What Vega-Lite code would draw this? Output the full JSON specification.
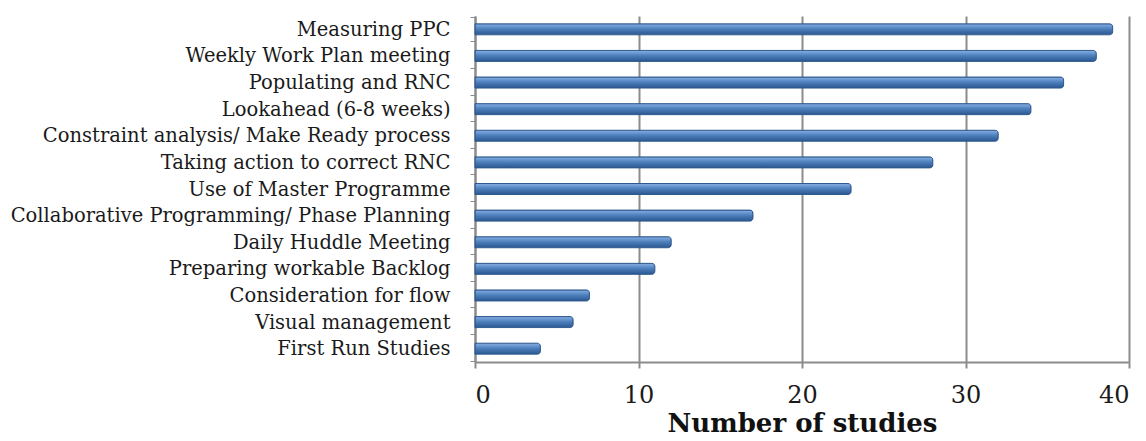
{
  "$schema": "https://vega.github.io/schema/vega-lite/v6.json",
  "autosize": "none",
  "width": 654,
  "height": 346,
  "padding": {"left": 475, "top": 16, "right": 17, "bottom": 79},
  "background": "white",
  "config": {"view": {"stroke": null}},
  "data": {
    "values": [
      {"practice": "Measuring PPC", "studies": 39},
      {"practice": "Weekly Work Plan meeting", "studies": 38},
      {"practice": "Populating and RNC", "studies": 36},
      {"practice": "Lookahead  (6-8 weeks)", "studies": 34},
      {"practice": "Constraint analysis/ Make Ready process", "studies": 32},
      {"practice": "Taking action to correct RNC", "studies": 28},
      {"practice": "Use of Master Programme", "studies": 23},
      {"practice": "Collaborative Programming/ Phase Planning", "studies": 17},
      {"practice": "Daily Huddle  Meeting", "studies": 12},
      {"practice": "Preparing workable Backlog", "studies": 11},
      {"practice": "Consideration for flow", "studies": 7},
      {"practice": "Visual management", "studies": 6},
      {"practice": "First Run Studies", "studies": 4}
    ]
  },
  "mark": {
    "type": "bar",
    "height": 11,
    "cornerRadiusEnd": 3,
    "stroke": "#2F5A8F",
    "strokeWidth": 1,
    "color": {
      "gradient": "linear",
      "x1": 0, "y1": 0, "x2": 0, "y2": 1,
      "stops": [
        {"offset": 0, "color": "#8AB0E6"},
        {"offset": 0.45, "color": "#4F81BD"},
        {"offset": 1, "color": "#2A5690"}
      ]
    }
  },
  "encoding": {
    "y": {
      "field": "practice",
      "type": "nominal",
      "sort": null,
      "title": null,
      "axis": {
        "labelFont": "DejaVu Serif",
        "labelFontSize": 19.5,
        "labelColor": "#1A1A1A",
        "labelPadding": 20,
        "labelLimit": 500,
        "tickSize": 5,
        "tickColor": "#8C8C8C",
        "tickBand": "extent",
        "domainColor": "#8C8C8C",
        "domainWidth": 2,
        "grid": false
      }
    },
    "x": {
      "field": "studies",
      "type": "quantitative",
      "scale": {"domain": [0, 40], "nice": false},
      "title": "Number of studies",
      "axis": {
        "values": [0, 10, 20, 30, 40],
        "labelFont": "DejaVu Serif",
        "labelFontSize": 24,
        "labelColor": "#1A1A1A",
        "labelPadding": 15,
        "tickSize": 6,
        "tickColor": "#8C8C8C",
        "tickWidth": 2,
        "domainColor": "#8C8C8C",
        "domainWidth": 2,
        "gridColor": "#8C8C8C",
        "gridWidth": 2,
        "gridOpacity": 1,
        "titleFont": "DejaVu Serif",
        "titleFontSize": 26,
        "titleFontWeight": "bold",
        "titleColor": "#111111",
        "titlePadding": 3
      }
    }
  }
}
